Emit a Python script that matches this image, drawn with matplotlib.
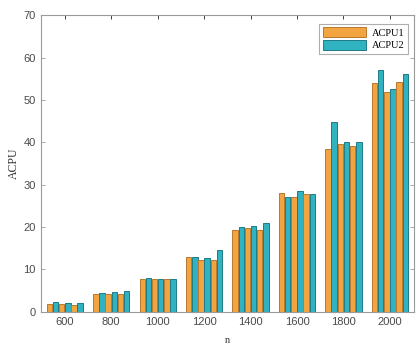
import matplotlib.pyplot as plt
import numpy as np

# three repeated runs per n, for each measure
n_values = [600, 800, 1000, 1200, 1400, 1600, 1800, 2000]
acpu1 = [
    [1.9, 1.9, 1.7],
    [4.2, 4.2, 4.1],
    [7.8, 7.7, 7.8],
    [12.9, 12.3, 12.3],
    [19.4, 19.7, 19.3],
    [28.1, 27.0, 27.8],
    [38.5, 39.6, 39.1],
    [54.1, 52.0, 54.3],
]
acpu2 = [
    [2.3, 2.0, 2.0],
    [4.5, 4.6, 4.8],
    [8.0, 7.8, 7.8],
    [12.9, 12.7, 14.5],
    [20.1, 20.3, 21.0],
    [27.2, 28.5, 27.9],
    [44.8, 40.1, 40.1],
    [57.2, 52.6, 56.1],
]

ORANGE = "#F2A441"
ORANGE_EDGE = "#B9782F"
TEAL = "#31B2C1"
TEAL_EDGE = "#1D7C89"
GRAY = "#9A9A9A"

fig = plt.figure(figsize=(4.17, 3.45), dpi=100)
ax = fig.add_axes([0.0995, 0.0965, 0.894, 0.859])

x = np.array(n_values, dtype=float)
step = 26.5
width = 23.5
a1 = np.array(acpu1)
a2 = np.array(acpu2)
for k in range(3):
    off1 = (2 * k - 2.5) * step
    off2 = (2 * k - 1.5) * step
    ax.bar(x + off1, a1[:, k], width=width, color=ORANGE, edgecolor=ORANGE_EDGE,
           linewidth=0.7, label="ACPU1" if k == 0 else None, zorder=2)
    ax.bar(x + off2, a2[:, k], width=width, color=TEAL, edgecolor=TEAL_EDGE,
           linewidth=0.7, label="ACPU2" if k == 0 else None, zorder=2)

ax.set_xlim(500, 2105)
ax.set_ylim(0, 70)
ax.set_xticks(n_values)
ax.set_yticks(range(0, 71, 10))

for s in ax.spines.values():
    s.set_color(GRAY)
    s.set_linewidth(0.8)

ax.tick_params(axis="both", direction="in", top=True, right=True, length=3,
               width=0.6, labelsize=8, labelcolor="#4a4a4a", color=GRAY, pad=4)
ax.tick_params(axis="x", color="#222222")
for lab in ax.get_xticklabels() + ax.get_yticklabels():
    lab.set_family("Liberation Sans")

ax.set_ylabel("ACPU", family="Liberation Serif", fontsize=8.5, color="#333333", labelpad=3)
ax.set_xlabel("n", family="Liberation Serif", fontsize=7.5, color="#333333", labelpad=6)

leg = ax.legend(loc="upper right", prop={"family": "Liberation Serif", "size": 7.5},
                handlelength=4.2, handleheight=1.1, handletextpad=0.5,
                borderpad=0.35, labelspacing=0.2, fancybox=False,
                edgecolor=GRAY, bbox_to_anchor=(0.997, 0.99))
leg.get_frame().set_linewidth(0.8)

fig.savefig("out.png", dpi=100)
